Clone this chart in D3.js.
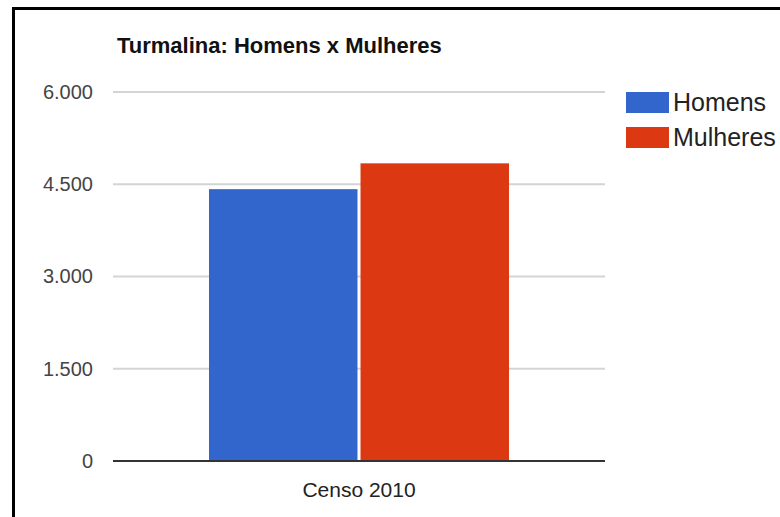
<!DOCTYPE html>
<html>
<head>
<meta charset="utf-8">
<script src="https://cdn.jsdelivr.net/npm/d3@7"></script>
<style>
    html, body { margin: 0; padding: 0; background: #fff; overflow: hidden; }
    svg { display: block; font-family: Arial, "Liberation Sans", sans-serif; }
</style>
</head>
<body>
<div id="chart"></div>
<script>
// dados do gráfico
const categories = ["Censo 2010"];
const seriesNames = ["Homens", "Mulheres"];
const seriesValues = [4420, 4840];
const seriesColors = ["#3366cc", "#dc3912"];
const yTicks = [0, 1500, 3000, 4500, 6000];
const chartTitle = "Turmalina: Homens x Mulheres";

const width = 780;
const height = 517;

const svg = d3.select("#chart").append("svg")
    .attr("width", width)
    .attr("height", height);

svg.append("rect")
    .attr("width", width)
    .attr("height", height)
    .attr("fill", "#fff");

// moldura preta (só aparecem os lados de cima e da esquerda)
svg.append("rect")
    .attr("x", 13.5)
    .attr("y", 8.5)
    .attr("width", width + 20)
    .attr("height", height + 20)
    .attr("fill", "none")
    .attr("stroke", "#000")
    .attr("stroke-width", 3);

const ptBR = d3.formatLocale({ decimal: ",", thousands: ".", grouping: [3], currency: ["R$", ""] });
const fmt = ptBR.format(",d");

const x = d3.scaleBand()
    .domain(categories)
    .range([113, 605])
    .paddingInner(0)
    .paddingOuter(0.32);

const xSub = d3.scaleBand()
    .domain(seriesNames)
    .range([0, x.bandwidth()])
    .paddingInner(0.02);

const y = d3.scaleLinear()
    .domain([0, 6000])
    .range([461, 92]);

// linhas de grade
svg.append("g")
    .selectAll("line")
    .data(yTicks.filter(d => d > 0))
    .enter().append("line")
    .attr("x1", 113)
    .attr("x2", 605)
    .attr("y1", d => y(d))
    .attr("y2", d => y(d))
    .attr("stroke", "#d4d4d4")
    .attr("stroke-width", 2);

// eixo y (só os rótulos)
const yAxis = svg.append("g")
    .attr("transform", "translate(113,0)")
    .call(d3.axisLeft(y).tickValues(yTicks).tickFormat(fmt).tickSize(0).tickPadding(20));
yAxis.select(".domain").remove();
yAxis.selectAll("text")
    .attr("fill", "#444")
    .style("font-size", "20px");

// barras
const bars = svg.append("g")
    .selectAll("g")
    .data(categories)
    .enter().append("g")
    .attr("transform", d => `translate(${x(d)},0)`);

bars.selectAll("rect")
    .data(seriesNames.map((name, i) => ({ name, value: seriesValues[i], color: seriesColors[i] })))
    .enter().append("rect")
    .attr("x", d => xSub(d.name))
    .attr("y", d => y(d.value))
    .attr("width", xSub.bandwidth())
    .attr("height", d => y(0) - y(d.value))
    .attr("fill", d => d.color);

// linha de base
svg.append("line")
    .attr("x1", 113)
    .attr("x2", 605)
    .attr("y1", y(0))
    .attr("y2", y(0))
    .attr("stroke", "#333")
    .attr("stroke-width", 2);

// eixo x (rótulo da categoria)
const xAxis = svg.append("g")
    .attr("transform", `translate(0,${y(0)})`)
    .call(d3.axisBottom(x).tickSize(0).tickPadding(21));
xAxis.select(".domain").remove();
xAxis.selectAll("text")
    .attr("fill", "#222")
    .style("font-size", "21px");

// título
svg.append("text")
    .attr("x", 117)
    .attr("y", 53)
    .attr("font-weight", "bold")
    .attr("font-size", "22px")
    .attr("fill", "#111")
    .text(chartTitle);

// legenda
const legend = svg.append("g")
    .selectAll("g")
    .data(seriesNames)
    .enter().append("g")
    .attr("transform", (d, i) => `translate(626,${92 + i * 35})`);

legend.append("rect")
    .attr("width", 43)
    .attr("height", 21)
    .attr("fill", (d, i) => seriesColors[i]);

legend.append("text")
    .attr("x", 47)
    .attr("y", 19)
    .attr("font-size", "25px")
    .attr("fill", "#222")
    .text(d => d);
</script>
</body>
</html>
